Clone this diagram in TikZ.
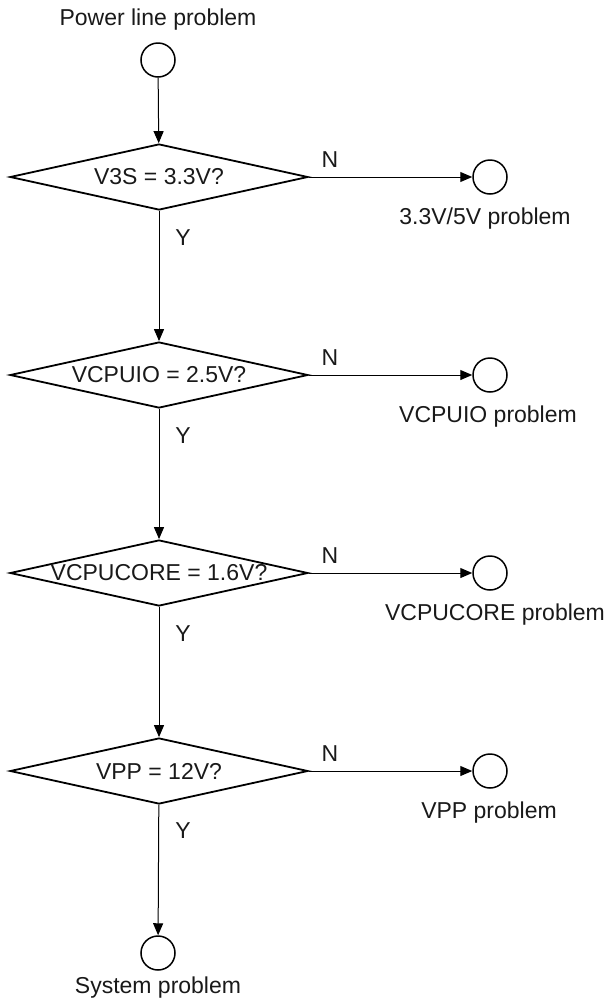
\documentclass[tikz,border=0pt]{standalone}
\usepackage{fontspec}
\setmainfont{Liberation Sans}
\usepackage{tikz}
\usetikzlibrary{shapes.geometric, arrows.meta}

\begin{document}
\begin{tikzpicture}[
  x=0.5pt, y=-0.5pt,
  >={Triangle[length=6pt, width=5pt]},
  every node/.style={font=\fontsize{11.5}{13}\selectfont, text=black!90},
  decision/.style={diamond, draw, line width=0.9pt, minimum width=149pt, minimum height=33pt, inner sep=0pt},
  terminal/.style={circle, draw, line width=0.75pt, minimum size=17pt, inner sep=0pt},
  every edge/.style={draw, ->, line width=0.5pt},
]
  \useasboundingbox (0,0) rectangle (604,1002);

  % Start
  \node (ttl) at (158,20) {Power line problem};
  \node[terminal] (start) at (158,60) {};

  % Column: checks
  \node[decision] (d1) at (159,177) {\makebox[0pt]{V3S = 3.3V?}};
  \node[decision] (d2) at (159,375) {\makebox[0pt]{VCPUIO = 2.5V?}};
  \node[decision] (d3) at (159,573) {\makebox[0pt]{VCPUCORE = 1.6V?}};
  \node[decision] (d4) at (159,771) {\makebox[0pt]{VPP = 12V?}};

  % Column: problems (N branch)
  \node[terminal] (p1) at (490,177) {};
  \node[terminal] (p2) at (490,375) {};
  \node[terminal] (p3) at (490,573) {};
  \node[terminal] (p4) at (490,771) {};
  \node (p1l) at (485,219) {3.3V/5V problem};
  \node (p2l) at (488,417) {VCPUIO problem};
  \node (p3l) at (495,615) {VCPUCORE problem};
  \node (p4l) at (489,813) {VPP problem};

  % End
  \node[terminal] (sys) at (158,953) {};
  \node (sysl) at (158,988) {System problem};

  % Edges
  \draw[->, line width=0.5pt] (start) -- (d1);
  \draw[->, line width=0.5pt] (d1) -- (d2);
  \draw[->, line width=0.5pt] (d2) -- (d3);
  \draw[->, line width=0.5pt] (d3) -- (d4);
  \draw[->, line width=0.5pt] (d4) -- (sys);
  \draw[->, line width=0.5pt] (d1) -- (p1);
  \draw[->, line width=0.5pt] (d2) -- (p2);
  \draw[->, line width=0.5pt] (d3) -- (p3);
  \draw[->, line width=0.5pt] (d4) -- (p4);

  % Y / N labels
  \node (y1) at (183,238) {Y};
  \node (y2) at (183,436) {Y};
  \node (y3) at (183,634) {Y};
  \node (y4) at (183,831) {Y};
  \node (n1) at (330,160) {N};
  \node (n2) at (330,358) {N};
  \node (n3) at (330,556) {N};
  \node (n4) at (330,754) {N};
\end{tikzpicture}
\end{document}
